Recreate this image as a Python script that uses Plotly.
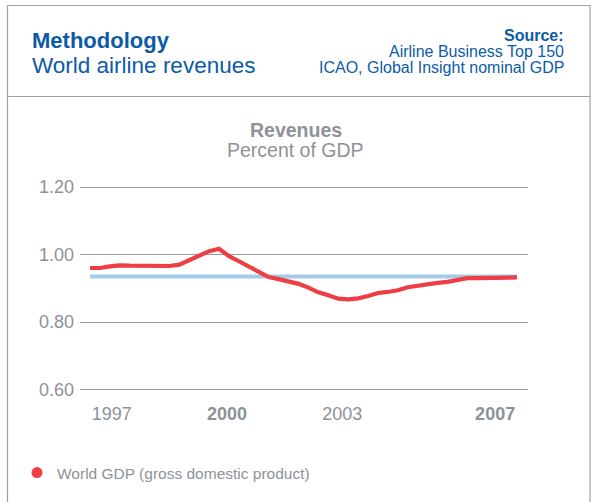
import plotly.graph_objects as go

# Quarterly periods, 1997 Q1 .. 2007 Q4
years = list(range(1997, 2008))
periods = [y + q / 4 for y in years for q in range(4)]

# Airline revenues as percent of world GDP (quarterly)
revenue_pct_gdp = [
    0.960, 0.960, 0.965, 0.968, 0.967, 0.966, 0.966, 0.967, 0.966, 0.970,
    0.983, 0.999, 1.010, 1.017, 0.995, 0.980, 0.964, 0.948, 0.933, 0.927,
    0.920, 0.913, 0.902, 0.888, 0.879, 0.869, 0.867, 0.870, 0.877, 0.886,
    0.889, 0.894, 0.903, 0.908, 0.914, 0.916, 0.919, 0.926, 0.930, 0.930,
    0.930, 0.931, 0.932, 0.932,
]
# Long-run reference level
reference_level = [0.935] * len(periods)

y_ticks = [0.60, 0.80, 1.00, 1.20]
y_tick_text = ["0.60", "0.80", "1.00", "1.20"]
x_ticks = [1997.55, 2000.45, 2003.35, 2007.2]
x_tick_text = ["1997", "<b>2000</b>", "2003", "<b>2007</b>"]

W, H = 592, 502
L, R, T, B = 80, 64, 185, 111
PW, PH = W - L - R, H - T - B

def px(x):
    return (x - L) / PW

def py(y):
    return (H - B - y) / PH

BLUE = "#0d5ba6"
GREY = "#8d9298"
FONT = "Liberation Sans, Arial, sans-serif"

fig = go.Figure()
fig.add_trace(go.Scatter(
    x=periods, y=reference_level, mode="lines",
    line=dict(color="#a5cbe9", width=4), showlegend=False, hoverinfo="skip",
))
fig.add_trace(go.Scatter(
    x=periods, y=revenue_pct_gdp, mode="lines",
    line=dict(color="#ee3d45", width=4.2), showlegend=False,
))
# legend entry shown as a dot
fig.add_trace(go.Scatter(
    x=[None], y=[None], mode="markers",
    marker=dict(color="#ee3d45", size=11),
    name="World GDP (gross domestic product)",
))

span = 1.2 - 0.6
per_px = span / 202.5
fig.update_layout(
    width=W, height=H,
    margin=dict(l=L, r=R, t=T, b=B),
    paper_bgcolor="white", plot_bgcolor="white",
    font=dict(family=FONT, color=GREY),
    xaxis=dict(
        range=[1997 - 10 / 39.72, 1997 + 438 / 39.72],
        tickvals=x_ticks, ticktext=x_tick_text,
        showgrid=False, zeroline=False, showline=False, ticks="",
        tickfont=dict(size=18, color=GREY, family=FONT),
        ticklabelstandoff=10,
    ),
    yaxis=dict(
        range=[0.6 - 1.5 * per_px, 1.2 + 2 * per_px],
        tickvals=y_ticks, ticktext=y_tick_text,
        showgrid=True, gridcolor="#9b9b9b", gridwidth=1,
        zeroline=False, showline=False, ticks="",
        tickfont=dict(size=18, color=GREY, family=FONT),
        ticklabelstandoff=5,
    ),
    legend=dict(
        x=px(17), y=py(473), xanchor="left", yanchor="middle",
        font=dict(size=15.5, color=GREY, family=FONT),
        bgcolor="rgba(0,0,0,0)", itemwidth=30,
    ),
    showlegend=True,
)

border = "#a0a0a0"
shapes = [
    dict(type="line", xref="paper", yref="paper", x0=px(7.5), x1=px(7.5), y0=py(5), y1=py(510)),
    dict(type="line", xref="paper", yref="paper", x0=px(590), x1=px(590), y0=py(5), y1=py(510)),
    dict(type="line", xref="paper", yref="paper", x0=px(7), x1=px(590.5), y0=py(5.5), y1=py(5.5)),
    dict(type="line", xref="paper", yref="paper", x0=px(7), x1=px(590.5), y0=py(96.5), y1=py(96.5)),
]
for s in shapes:
    s["line"] = dict(color=border, width=1.2)
fig.update_layout(shapes=shapes)

def note(text, x, y, size, color, anchor="left", bold=False):
    fig.add_annotation(
        text=f"<b>{text}</b>" if bold else text,
        xref="paper", yref="paper", x=px(x), y=py(y),
        xanchor=anchor, yanchor="middle", showarrow=False,
        font=dict(size=size, color=color, family=FONT),
    )

note("Methodology", 30, 40, 22, BLUE, bold=True)
note("World airline revenues", 30, 65, 22.5, BLUE)
note("Source:", 566, 35, 16, BLUE, anchor="right", bold=True)
note("Airline Business Top 150", 566, 51.5, 16, BLUE, anchor="right")
note("ICAO, Global Insight nominal GDP", 566, 67.5, 16, BLUE, anchor="right")
note("Revenues", 296, 130, 19.5, GREY, anchor="center", bold=True)
note("Percent of GDP", 295, 150, 19.5, GREY, anchor="center")

fig.write_html("out.html")
